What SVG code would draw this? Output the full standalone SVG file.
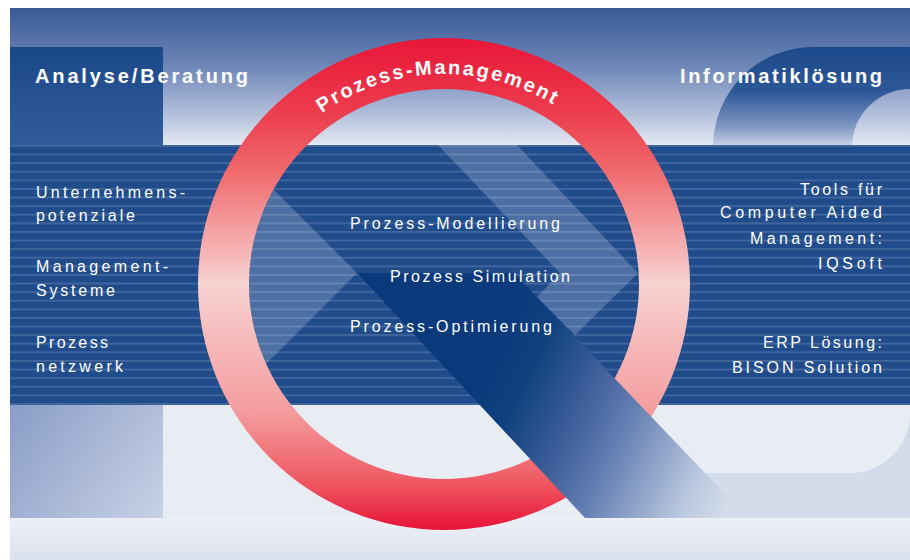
<svg xmlns="http://www.w3.org/2000/svg" width="910" height="560" viewBox="0 0 910 560">
<style>
.t{font-family:"Liberation Sans",Arial,sans-serif;fill:#ffffff;font-size:16px}
.h{font-weight:bold;font-size:20px}
.lt{fill:#ffffff;fill-opacity:0.2}
</style>
<defs>
<linearGradient id="gTop" x1="0" y1="8" x2="0" y2="145" gradientUnits="userSpaceOnUse">
<stop offset="0" stop-color="#3a5b96"/><stop offset="0.4" stop-color="#6a83b5"/><stop offset="0.75" stop-color="#adbbd8"/><stop offset="1" stop-color="#e4e9f2"/>
</linearGradient>
<linearGradient id="gI" x1="0" y1="47" x2="0" y2="145" gradientUnits="userSpaceOnUse">
<stop offset="0" stop-color="#1b4889"/><stop offset="1" stop-color="#315c9b"/>
</linearGradient>
<linearGradient id="gS" x1="0" y1="47" x2="0" y2="147" gradientUnits="userSpaceOnUse">
<stop offset="0" stop-color="#1c498b"/><stop offset="0.45" stop-color="#2d5898"/><stop offset="0.8" stop-color="#8298c5"/><stop offset="1" stop-color="#cdd6e8"/>
</linearGradient>
<linearGradient id="gIlow" x1="10" y1="405" x2="163" y2="518" gradientUnits="userSpaceOnUse">
<stop offset="0" stop-color="#8a9dc7"/><stop offset="1" stop-color="#c8d2e6"/>
</linearGradient>
<linearGradient id="gFoot" x1="0" y1="518" x2="0" y2="560" gradientUnits="userSpaceOnUse">
<stop offset="0" stop-color="#edf0f6"/><stop offset="1" stop-color="#dbe1ed"/>
</linearGradient>
<linearGradient id="gRing" x1="0" y1="38" x2="0" y2="530" gradientUnits="userSpaceOnUse">
<stop offset="0" stop-color="#e81638"/><stop offset="0.15" stop-color="#ec3c4c"/><stop offset="0.27" stop-color="#f06a6c"/><stop offset="0.5" stop-color="#f8d2d2"/><stop offset="0.76" stop-color="#f49c9e"/><stop offset="0.9" stop-color="#ef5a64"/><stop offset="1" stop-color="#e81236"/>
</linearGradient>
<linearGradient id="gTail" x1="480" y1="380" x2="730" y2="500" gradientUnits="userSpaceOnUse">
<stop offset="0" stop-color="#0a3a7c"/><stop offset="0.15" stop-color="#11427f"/><stop offset="0.35" stop-color="#3a5c98"/><stop offset="0.55" stop-color="#6580b3"/><stop offset="0.85" stop-color="#b8c6de"/><stop offset="1" stop-color="#d3dcea"/>
</linearGradient>
<pattern id="stripes" x="0" y="145" width="20" height="8.6" patternUnits="userSpaceOnUse">
<rect x="0" y="0" width="20" height="1.8" fill="#ffffff" fill-opacity="0.15"/>
</pattern>
<clipPath id="cInner"><circle cx="444" cy="284" r="195"/></clipPath>
<path id="arc" d="M234,284 A210,210 0 0 1 654,284"/>
</defs>

<rect x="0" y="0" width="910" height="560" fill="#ffffff"/>

<g id="background">
<rect x="10" y="8" width="900" height="137" fill="url(#gTop)"/>
<rect x="10" y="405" width="900" height="113" fill="#e8edf4"/>
<rect x="10" y="518" width="900" height="42" fill="url(#gFoot)"/>
</g>

<g id="letter-I">
<rect x="10" y="47" width="153" height="98" fill="url(#gI)"/>
<rect x="10" y="405" width="153" height="113" fill="url(#gIlow)"/>
</g>

<g id="letter-S">
<path d="M713,147 A100,100 0 0 1 813,47 L910,47 L910,89 A58,58 0 0 0 852,147 Z" fill="url(#gS)"/>
<rect x="640" y="405" width="270" height="113" fill="#d3dcea"/>
<path d="M640,405 L910,405 L910,413 A60,60 0 0 1 850,473 L640,473 Z" fill="#e8edf4"/>
</g>

<g id="band">
<rect x="10" y="145" width="900" height="260" fill="#214c8c"/>
<rect x="10" y="145" width="900" height="260" fill="url(#stripes)"/>
</g>

<g id="q-inner" clip-path="url(#cInner)">
<polygon class="lt" points="357,273 229,145 150,145 150,405 225,405"/>
<polygon class="lt" points="438,145 517,145 638,273 575,335 537,297 560,273"/>
</g>

<g id="ring">
<path d="M198,284 A246,246 0 1 0 690,284 A246,246 0 1 0 198,284 Z M249,284 A195,195 0 1 0 639,284 A195,195 0 1 0 249,284 Z" fill="url(#gRing)" fill-rule="evenodd"/>
<text class="t h" font-size="20" letter-spacing="2.3"><textPath href="#arc" startOffset="323" text-anchor="middle">Prozess-Management</textPath></text>
</g>

<g id="q-tail">
<polygon points="357,273 514,273 748,518 585,518" fill="url(#gTail)"/>
</g>

<g id="connectors"></g>

<g id="titles">
<text class="t h" x="35" y="83" textLength="213" lengthAdjust="spacing">Analyse/Beratung</text>
<text class="t h" x="680" y="83" textLength="202" lengthAdjust="spacing">Informatiklösung</text>
</g>

<g id="left-list">
<text class="t" x="36" y="198" textLength="149" lengthAdjust="spacing">Unternehmens-</text>
<text class="t" x="36" y="221" textLength="99" lengthAdjust="spacing">potenziale</text>
<text class="t" x="36" y="272" textLength="132" lengthAdjust="spacing">Management-</text>
<text class="t" x="36" y="296" textLength="79" lengthAdjust="spacing">Systeme</text>
<text class="t" x="36" y="348" textLength="72" lengthAdjust="spacing">Prozess</text>
<text class="t" x="36" y="372" textLength="87" lengthAdjust="spacing">netzwerk</text>
</g>

<g id="center-list">
<text class="t" x="350" y="229" textLength="210" lengthAdjust="spacing">Prozess-Modellierung</text>
<text class="t" x="390" y="282" textLength="180" lengthAdjust="spacing">Prozess Simulation</text>
<text class="t" x="350" y="332" textLength="202" lengthAdjust="spacing">Prozess-Optimierung</text>
</g>

<g id="right-list">
<text class="t" x="800" y="195" textLength="82" lengthAdjust="spacing">Tools für</text>
<text class="t" x="720" y="218" textLength="162" lengthAdjust="spacing">Computer Aided</text>
<text class="t" x="750" y="244" textLength="132" lengthAdjust="spacing">Management:</text>
<text class="t" x="818" y="269" textLength="64" lengthAdjust="spacing">IQSoft</text>
<text class="t" x="763" y="348" textLength="119" lengthAdjust="spacing">ERP Lösung:</text>
<text class="t" x="732" y="373" textLength="150" lengthAdjust="spacing">BISON Solution</text>
</g>
</svg>
